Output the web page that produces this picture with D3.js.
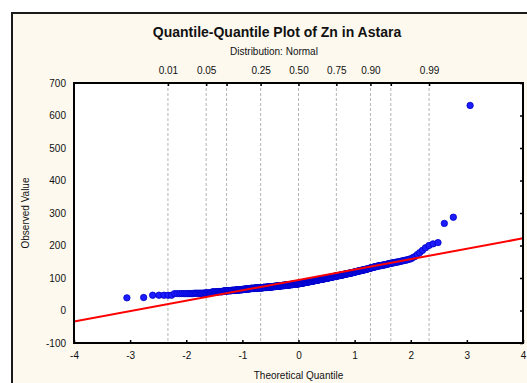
<!DOCTYPE html>
<html lang="en">
<head>
<meta charset="UTF-8">
<title>Q-Q Plot</title>
<script src="https://cdn.jsdelivr.net/npm/d3@7/dist/d3.min.js"></script>
<style>
  body { margin: 0; background: #fff; }
  text { font-family: "Liberation Sans", Arial, sans-serif; fill: #111; }
</style>
</head>
<body>
<div id="chart"></div>
<script>
// observed Zn values (sorted) with how many samples share each value
const obsValues = [39, 40, 47, 52, 53, 54, 57, 58, 60, 61, 62, 63, 64, 65, 66, 67,
  68, 69, 70, 71, 72, 73, 74, 75, 76, 77, 78, 79, 80, 81, 82,
  83, 84, 85, 86, 87, 88, 89, 90, 91, 92, 93, 94, 95, 96, 97, 98, 99,
  100, 101, 102, 103, 104, 105, 106, 107, 108,
  109, 110, 111, 112, 113, 114, 115, 116, 117, 118,
  119, 120, 121, 122, 123, 124, 125, 126, 127, 128, 129, 130, 131,
  132, 133, 134, 135, 136, 137, 138, 139,
  140, 141, 142, 143, 144, 145, 146, 147, 148, 149, 150,
  151, 152, 153, 154, 155, 156, 158, 159,
  163, 166, 172, 178, 185, 193, 200, 205, 209, 268, 287, 631]
const obsCounts = [1, 1, 5, 10, 9, 8, 8, 8, 8, 7, 8, 8, 8, 7, 7, 7,
  12, 13, 13, 12, 13, 10, 10, 11, 11, 11, 11, 11, 11, 11, 10,
  7, 7, 7, 6, 7, 6, 7, 6, 7, 6, 6, 6, 6, 6, 6, 6, 6,
  5, 5, 5, 5, 5, 5, 5, 5, 6,
  4, 4, 4, 4, 4, 4, 4, 4, 3, 3,
  3, 3, 3, 3, 3, 3, 3, 3, 2, 2, 2, 2, 2,
  2, 2, 2, 2, 2, 2, 3, 2,
  2, 2, 1, 2, 1, 2, 1, 2, 1, 2, 1,
  1, 1, 1, 1, 1, 1, 1, 1,
  1, 1, 1, 1, 1, 1, 1, 1, 1, 1, 1, 1]

// fitted reference line: value = intercept + slope * z
const lineIntercept = 94
const lineSlope = 32

// probability reference lines on the top axis
const probs = [0.01, 0.05, 0.10, 0.25, 0.50, 0.75, 0.90, 0.95, 0.99]
const probLabels = ['0.01', '0.05', '', '0.25', '0.50', '0.75', '0.90', '', '0.99']

const xTicks = [-4, -3, -2, -1, 0, 1, 2, 3, 4]
const yTicks = [-100, 0, 100, 200, 300, 400, 500, 600, 700]

const width = 527
const height = 383
const plot = { left: 74, top: 83, right: 523, bottom: 343 }

// inverse normal cdf (Acklam)
function qnorm(p) {
  const a = [-39.69683028665376, 220.9460984245205, -275.9285104469687, 138.357751867269, -30.66479806614716, 2.506628277459239]
  const b = [-54.47609879822406, 161.5858368580409, -155.6989798598866, 66.80131188771972, -13.28068155288572]
  const c = [-0.007784894002430293, -0.3223964580411365, -2.400758277161838, -2.549732539343734, 4.374664141464968, 2.938163982698783]
  const d = [0.007784695709041462, 0.3224671290700398, 2.445134137142996, 3.754408661907416]
  const pl = 0.02425
  let q, r
  if (p < pl) {
    q = Math.sqrt(-2 * Math.log(p))
    return (((((c[0]*q+c[1])*q+c[2])*q+c[3])*q+c[4])*q+c[5]) / ((((d[0]*q+d[1])*q+d[2])*q+d[3])*q+1)
  } else if (p <= 1 - pl) {
    q = p - 0.5
    r = q * q
    return (((((a[0]*r+a[1])*r+a[2])*r+a[3])*r+a[4])*r+a[5])*q / (((((b[0]*r+b[1])*r+b[2])*r+b[3])*r+b[4])*r+1)
  } else {
    q = Math.sqrt(-2 * Math.log(1 - p))
    return -(((((c[0]*q+c[1])*q+c[2])*q+c[3])*q+c[4])*q+c[5]) / ((((d[0]*q+d[1])*q+d[2])*q+d[3])*q+1)
  }
}

// expand the table into sorted observations, pair each with its Blom quantile
const sorted = []
obsValues.forEach((v, i) => { for (let k = 0; k < obsCounts[i]; k++) sorted.push(v) })
const n = sorted.length
const points = sorted.map((v, i) => ({ z: qnorm((i + 1 - 0.375) / (n + 0.25)), v: v }))

const svg = d3.select('#chart').append('svg')
  .attr('width', width)
  .attr('height', height)

// outer panel
svg.append('rect')
  .attr('x', 12).attr('y', 13)
  .attr('width', 530).attr('height', 380)
  .attr('fill', '#fdf9ee')
  .attr('stroke', '#1a1a1a')
  .attr('stroke-width', 2)

svg.append('rect')
  .attr('x', plot.left).attr('y', plot.top)
  .attr('width', plot.right - plot.left).attr('height', plot.bottom - plot.top)
  .attr('fill', '#fff')

const x = d3.scaleLinear().domain([-4, 4]).range([plot.left, plot.right])
const y = d3.scaleLinear().domain([-100, 700]).range([plot.bottom, plot.top])

svg.append('defs').append('clipPath').attr('id', 'clip')
  .append('rect')
  .attr('x', plot.left).attr('y', plot.top)
  .attr('width', plot.right - plot.left).attr('height', plot.bottom - plot.top)

// dashed probability lines
svg.append('g').selectAll('line')
  .data(probs)
  .enter().append('line')
  .attr('x1', d => x(qnorm(d))).attr('x2', d => x(qnorm(d)))
  .attr('y1', plot.top).attr('y2', plot.bottom)
  .attr('stroke', '#b4b4b4')
  .attr('stroke-width', 1)
  .attr('stroke-dasharray', '3,2')

// axes
const fmt = d => d
const gx = svg.append('g')
  .attr('transform', `translate(0, ${plot.bottom})`)
  .call(d3.axisBottom(x).tickValues(xTicks).tickFormat(fmt).tickSize(-3).tickPadding(9))
const gy = svg.append('g')
  .attr('transform', `translate(${plot.left}, 0)`)
  .call(d3.axisLeft(y).tickValues(yTicks).tickFormat(fmt).tickSize(0).tickPadding(8))
const gr = svg.append('g')
  .attr('transform', `translate(${plot.right}, 0)`)
  .call(d3.axisRight(y).tickValues(yTicks).tickFormat('').tickSize(-3))
const gt = svg.append('g')
  .attr('transform', `translate(0, ${plot.top})`)
  .call(d3.axisTop(x).tickValues(probs.map(qnorm)).tickFormat((d, i) => probLabels[i]).tickSize(-3).tickPadding(9))

;[gx, gy, gr, gt].forEach(g => {
  g.select('.domain').remove()
  g.selectAll('.tick line').attr('stroke', '#000').attr('stroke-width', 1.5)
  g.selectAll('text').attr('font-size', '10px').attr('fill', '#111')
    .attr('font-family', '"Liberation Sans", Arial, sans-serif')
})

// data points
svg.append('g').attr('clip-path', 'url(#clip)')
  .selectAll('circle')
  .data(points)
  .enter().append('circle')
  .attr('cx', d => x(d.z))
  .attr('cy', d => y(d.v))
  .attr('r', 3.2)
  .attr('fill', '#1c1cff')
  .attr('stroke', '#0000c8')
  .attr('stroke-width', 0.8)

// reference line
svg.append('line')
  .attr('clip-path', 'url(#clip)')
  .attr('x1', x(-4)).attr('y1', y(lineIntercept + lineSlope * -4))
  .attr('x2', x(4)).attr('y2', y(lineIntercept + lineSlope * 4))
  .attr('stroke', '#ff0000')
  .attr('stroke-width', 2)

// plot border
svg.append('rect')
  .attr('x', plot.left).attr('y', plot.top)
  .attr('width', plot.right - plot.left).attr('height', plot.bottom - plot.top)
  .attr('fill', 'none')
  .attr('stroke', '#000')
  .attr('stroke-width', 2)

// titles
svg.append('text')
  .attr('x', 277).attr('y', 37)
  .attr('text-anchor', 'middle')
  .attr('font-size', '14px')
  .attr('font-weight', 'bold')
  .text('Quantile-Quantile Plot of Zn in Astara')

svg.append('text')
  .attr('x', 274).attr('y', 55)
  .attr('text-anchor', 'middle')
  .attr('font-size', '10px')
  .text('Distribution: Normal')

svg.append('text')
  .attr('x', (plot.left + plot.right) / 2).attr('y', 379)
  .attr('text-anchor', 'middle')
  .attr('font-size', '10px')
  .text('Theoretical Quantile')

svg.append('text')
  .attr('transform', `translate(29, ${(plot.top + plot.bottom) / 2}) rotate(-90)`)
  .attr('text-anchor', 'middle')
  .attr('font-size', '10px')
  .text('Observed Value')
</script>
</body>
</html>
